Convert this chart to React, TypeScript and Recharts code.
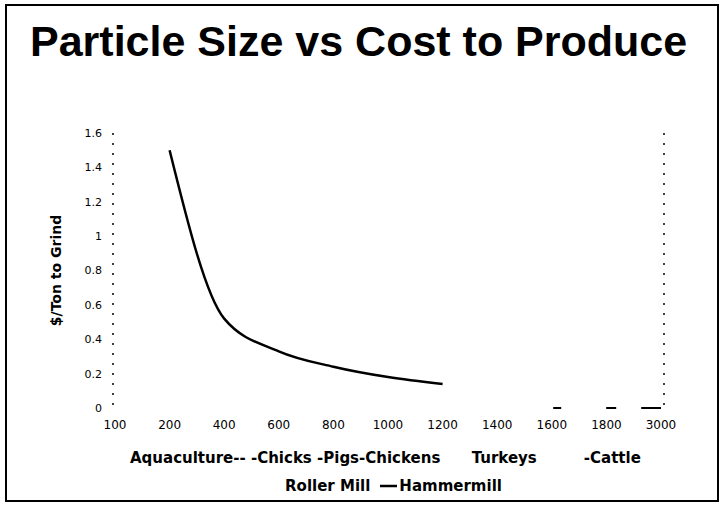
import React from 'react';
import { LineChart, Line, XAxis, YAxis, Legend } from 'recharts';

const sizes = ["100", "200", "400", "600", "800", "1000", "1200", "1400", "1600", "1800", "3000"];
const hammermill = [null, 1.5, 0.52, 0.33, 0.24, 0.18, 0.14, null, null, null, null];
const rollerMill = [null, null, null, null, null, null, null, 0, 0, 0, 0];
const seriesOrder = ["roller", "hammermill"];
const yTicks = [0, 0.2, 0.4, 0.6, 0.8, 1, 1.2, 1.4, 1.6];
const title = "Particle Size vs Cost to Produce";
const yTitle = "$/Ton to Grind";
const xTitle = "Aquaculture-- -Chicks -Pigs-Chickens      Turkeys         -Cattle";

const data = sizes.map((s, i) => ({ size: s, hammermill: hammermill[i], roller: rollerMill[i] }));

const labelFont = { fontFamily: '"DejaVu Sans", sans-serif', fontWeight: 'bold', fontSize: 15 };
const rollerDash = "0 56 8 45 10 25 22";

const renderLegend = (props: any) => {
  const payload = [...(props.payload || [])].sort(
    (a: any, b: any) => seriesOrder.indexOf(a.dataKey) - seriesOrder.indexOf(b.dataKey)
  );
  return (
    <div style={{ display: 'flex', justifyContent: 'center', alignItems: 'center', height: 18, ...labelFont, color: '#000' }}>
      {payload.map((p: any) => (
        <span key={p.value} style={{ display: 'inline-flex', alignItems: 'center', marginRight: 10 }}>
          <svg width={17} height={10} style={{ marginRight: 2 }}>
            <line x1={0} y1={5} x2={17} y2={5} stroke="#000" strokeWidth={2.5}
              strokeDasharray={p.dataKey === 'roller' ? rollerDash : undefined} />
          </svg>
          {p.value}
        </span>
      ))}
    </div>
  );
};

export default function App() {
  return (
    <div style={{ position: 'absolute', left: 0, top: 0, width: 723, height: 506, background: '#fff', overflow: 'hidden' }}>
      <div style={{ position: 'absolute', left: 5, top: 4, width: 714, height: 498, border: '2px solid #000', boxSizing: 'border-box' }} />
      <div style={{ position: 'absolute', left: 30, top: 20, fontFamily: '"Liberation Sans", Arial, sans-serif', fontWeight: 'bold', fontSize: 43, lineHeight: '43px', whiteSpace: 'nowrap', color: '#000' }}>
        {title}
      </div>
      <div style={{ position: 'absolute', left: 0, top: 0 }}>
        <LineChart width={723} height={506} data={data} margin={{ top: 133, right: 57, bottom: 11, left: 0 }}>
          <XAxis
            dataKey="size"
            scale="point"
            padding={{ left: 2, right: 3 }}
            axisLine={false}
            tickLine={false}
            tickSize={0}
            tickMargin={12}
            height={69}
            interval={0}
            tick={{ fontSize: 12, fill: '#000', fontFamily: '"DejaVu Sans", sans-serif' }}
            label={{
              content: (p: any) => {
                const vb = p.viewBox;
                return (
                  <text x={vb.x + 17} y={vb.y + 55} xmlSpace="preserve" style={{ whiteSpace: 'pre' }} fill="#000" {...labelFont}>
                    {xTitle}
                  </text>
                );
              },
            }}
          />
          <YAxis
            yAxisId="left"
            domain={[0, 1.6]}
            ticks={yTicks}
            width={113}
            tickLine={false}
            tickSize={0}
            tickMargin={11}
            axisLine={{ stroke: '#000', strokeWidth: 1.5, strokeDasharray: '2 8' }}
            tick={{ fontSize: 11, fill: '#000', fontFamily: '"DejaVu Sans", sans-serif' }}
            label={{
              content: (p: any) => {
                const vb = p.viewBox;
                const cx = vb.x + 56;
                const cy = vb.y + vb.height / 2;
                return (
                  <text x={cx} y={cy} transform={`rotate(-90, ${cx}, ${cy})`} textAnchor="middle" dominantBaseline="central" fill="#000" {...labelFont} fontSize={14}>
                    {yTitle}
                  </text>
                );
              },
            }}
          />
          <YAxis
            yAxisId="right"
            orientation="right"
            domain={[0, 1.6]}
            ticks={yTicks}
            width={2}
            tick={false}
            tickLine={false}
            axisLine={{ stroke: '#000', strokeWidth: 1.5, strokeDasharray: '2 8' }}
          />
          <Legend verticalAlign="bottom" content={renderLegend} wrapperStyle={{ left: 56 }} />
          <Line yAxisId="left" name="Roller Mill" dataKey="roller" stroke="#000" strokeWidth={2}
            strokeDasharray={rollerDash} dot={false} activeDot={false} isAnimationActive={false} connectNulls={false} />
          <Line yAxisId="left" name="Hammermill" type="monotone" dataKey="hammermill" stroke="#000" strokeWidth={2.5}
            dot={false} activeDot={false} isAnimationActive={false} />
        </LineChart>
      </div>
    </div>
  );
}
